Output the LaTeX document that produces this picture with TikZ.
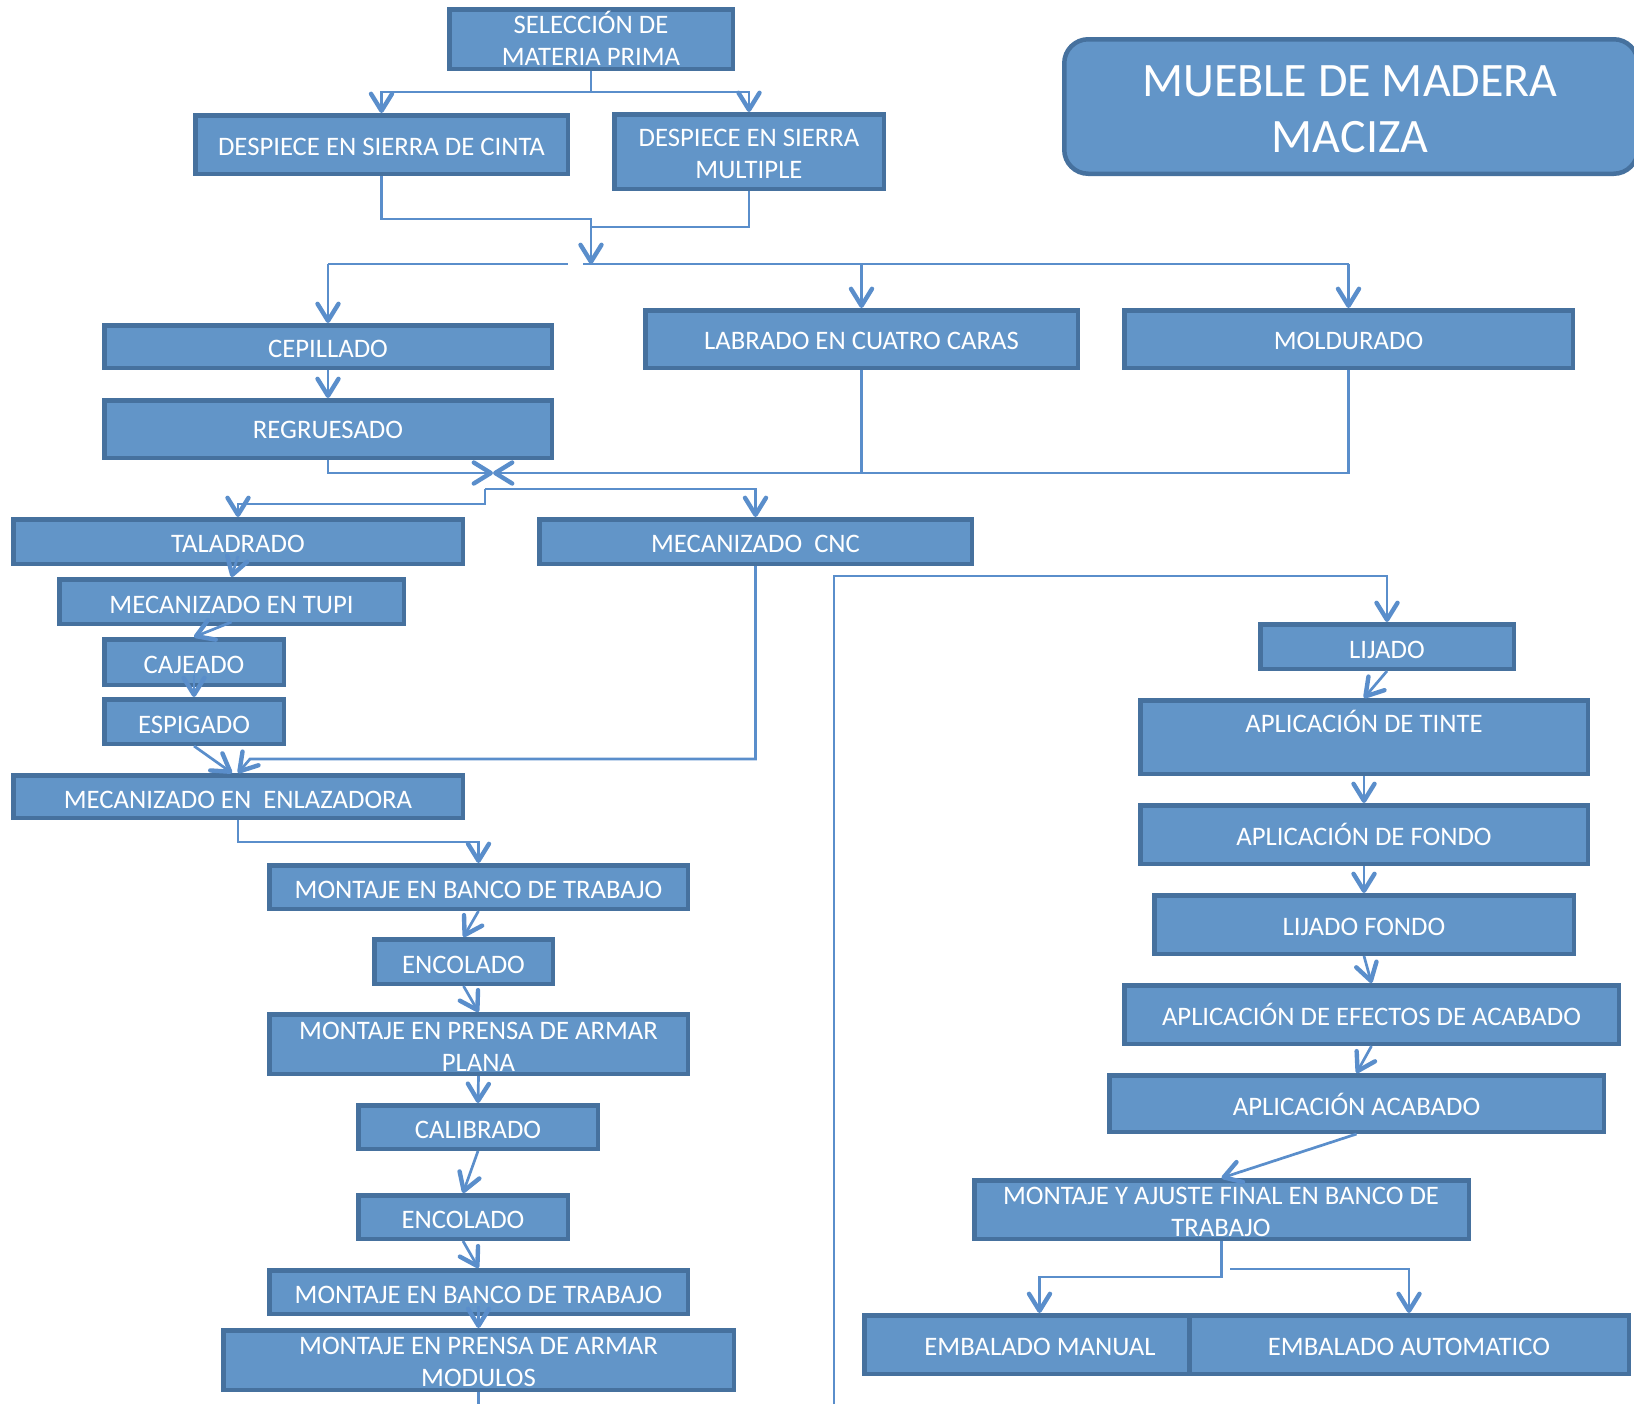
\documentclass[tikz,border=0pt]{standalone}
\usepackage{fontspec}
\setmainfont{Carlito}
\usetikzlibrary{arrows.meta}
\definecolor{bfill}{HTML}{6295C8}
\definecolor{bdraw}{HTML}{46719E}
\definecolor{lcol}{HTML}{5A8ECB}
\newcommand\BX[5]{%
  \pgfmathsetmacro\cx{(#2+#4)/2}%
  \pgfmathsetmacro\cy{(#3+#5)/2}%
  \pgfmathsetmacro\ww{(#4-#2-4.5)*0.5}%
  \pgfmathsetmacro\hh{(#5-#3-4.5)*0.5}%
  \node[box, minimum width=\ww pt, minimum height=\hh pt] (#1) at (\cx,\cy) {};}
\newcommand\TX[4]{\node[txt] (#1) at (#2,#3) {#4};}
\begin{document}
\begin{tikzpicture}[x=0.5pt,y=-0.5pt,
  box/.style={draw=bdraw, fill=bfill, line width=2.25pt, rectangle, inner sep=0pt},
  txt/.style={text=white, font=\fontsize{13.35}{15.75}\selectfont, anchor=base, align=center, inner sep=0pt},
  ttl/.style={text=white, font=\fontsize{24}{28}\selectfont, anchor=base, align=center, inner sep=0pt},
  conn/.style={draw=lcol, line width=1.35pt},
  arr/.style={conn, -{Straight Barb[length=8.5pt,width=10.5pt,line width=2.2pt,round]}}]
\clip (0,0) rectangle (1634,1404);
% ---------- boxes ----------
\node[box, rounded corners=12pt, minimum width=286.75pt, minimum height=67.25pt] (title) at (1351,106.5) {};
\node[ttl] (titlet) at (1350,152.7) {MUEBLE DE MADERA\\MACIZA};
\BX{sel}{447}{7}{735}{71}
\TX{selt}{591}{65}{SELECCIÓN DE\\MATERIA PRIMA}
\BX{cinta}{193}{113}{570}{176}
\TX{cintat}{381.5}{155}{DESPIECE EN SIERRA DE CINTA}
\BX{mult}{612}{112}{886}{191}
\TX{multt}{749}{178}{DESPIECE EN SIERRA\\MULTIPLE}
\BX{cep}{102}{323}{554}{370}
\TX{cept}{328}{357}{CEPILLADO}
\BX{reg}{102}{398}{554}{460}
\TX{regt}{328}{438}{REGRUESADO}
\BX{lab}{643}{308}{1080}{370}
\TX{labt}{861.5}{349}{LABRADO EN CUATRO CARAS}
\BX{mol}{1122}{308}{1575}{370}
\TX{molt}{1348.5}{349}{MOLDURADO}
\BX{tal}{11}{517}{465}{566}
\TX{talt}{238}{552}{TALADRADO}
\BX{cnc}{537}{517}{974}{566}
\TX{cnct}{755.5}{552}{MECANIZADO\ \ CNC}
\BX{tupi}{57}{577}{406}{626}
\TX{tupit}{231.5}{613}{MECANIZADO EN TUPI}
\BX{caj}{102}{637}{286}{687}
\TX{cajt}{194}{673}{CAJEADO}
\BX{esp}{102}{697}{286}{746}
\TX{espt}{194}{733}{ESPIGADO}
\BX{enl}{11}{773}{465}{820}
\TX{enlt}{238}{808}{MECANIZADO EN\ \ ENLAZADORA}
\BX{bancoa}{267}{863}{690}{911}
\TX{bancoat}{478.5}{898}{MONTAJE EN BANCO DE TRABAJO}
\BX{enca}{372}{937}{555}{986}
\TX{encat}{463.5}{973}{ENCOLADO}
\BX{plana}{267}{1012}{690}{1076}
\TX{planat}{478.5}{1071}{MONTAJE EN PRENSA DE ARMAR\\PLANA}
\BX{cal}{356}{1103}{600}{1151}
\TX{calt}{478}{1138}{CALIBRADO}
\BX{encb}{356}{1193}{570}{1241}
\TX{encbt}{463}{1228}{ENCOLADO}
\BX{bancob}{267}{1268}{690}{1316}
\TX{bancobt}{478.5}{1303}{MONTAJE EN BANCO DE TRABAJO}
\BX{mod}{221}{1328}{736}{1392}
\TX{modt}{478.5}{1386}{MONTAJE EN PRENSA DE ARMAR\\MODULOS}
\BX{lij}{1258}{622}{1516}{671}
\TX{lijt}{1387}{658}{LIJADO}
\BX{tin}{1138}{698}{1590}{776}
\TX{tint}{1364}{732}{APLICACIÓN DE TINTE}
\BX{fon}{1138}{803}{1590}{866}
\TX{font}{1364}{845}{APLICACIÓN DE FONDO}
\BX{lfo}{1152}{893}{1576}{956}
\TX{lfot}{1364}{935}{LIJADO FONDO}
\BX{efe}{1122}{983}{1621}{1046}
\TX{efet}{1371.5}{1025}{APLICACIÓN DE EFECTOS DE ACABADO}
\BX{aca}{1107}{1073}{1606}{1134}
\TX{acat}{1356.5}{1115}{APLICACIÓN ACABADO}
\BX{fin}{972}{1178}{1471}{1241}
\TX{fint}{1221}{1236}{MONTAJE Y AJUSTE FINAL EN BANCO DE\\TRABAJO}
\BX{man}{862}{1313}{1217}{1376}
\TX{mant}{1040}{1355}{EMBALADO MANUAL}
\BX{aut}{1187}{1313}{1631}{1376}
\TX{autt}{1409}{1355}{EMBALADO AUTOMATICO}
% ---------- connectors ----------
\coordinate (j1) at (591,92);
\draw[conn] (sel.south) -- (j1);
\draw[arr] (j1) -| (cinta.north);
\draw[arr] (j1) -| (mult.north);
\coordinate (j2) at (591,264);
\draw[arr] (cinta.south) |- (591,219) -- (j2);
\draw[conn] (mult.south) |- (591,227);
\coordinate (h1) at (328,264);
\coordinate (h2) at (568,264);
\coordinate (h3) at (583,264);
\coordinate (h4) at (1348.5,264);
\draw[conn] (h1) -- (h2);
\draw[conn] (h3) -- (h4);
\draw[arr] (h1) -- (cep.north);
\draw[arr] (lab.north |- h3) -- (lab.north);
\draw[arr] (h4) -- (mol.north);
\draw[arr] (cep.south) -- (reg.north);
\coordinate (m) at (493,473);
\draw[arr] (reg.south) |- (m);
\draw[arr] (mol.south) |- (m);
\draw[conn] (lab.south) -- (lab.south |- m);
\coordinate (s) at (485,489);
\draw[arr] (s) -| (cnc.north);
\draw[arr] (s) -- (485,504) -| (tal.north);
\draw[arr] ([yshift=5pt]tal.south) -- (tupi.north);
\draw[arr] ([yshift=2pt]tupi.south) -- (caj.north);
\draw[arr] ([yshift=6pt]caj.south) -- (esp.north);
\draw[arr] (esp.south) -- ([xshift=-3pt]enl.north);
\draw[arr] (cnc.south) |- (250,759) -- (enl.north);
\draw[arr] (enl.south) |- (478.5,842) -- (bancoa.north);
\draw[arr] (bancoa.south) -- (enca.north);
\draw[arr] (enca.south) -- (plana.north);
\draw[arr] (plana.south) -- (cal.north);
\draw[arr] (cal.south) -- (encb.north);
\draw[arr] (encb.south) -- (bancob.north);
\draw[arr] ([yshift=5pt]bancob.south) -- (mod.north);
\coordinate (b2) at (478.5,1404);
\draw[conn] (mod.south) -- (b2);
\coordinate (b1) at (834,1404);
\coordinate (k) at (1387,576);
\draw[arr] (b1) |- (k) -- (lij.north);
\draw[arr] (lij.south) -- (tin.north);
\draw[arr] (tin.south) -- (fon.north);
\draw[arr] (fon.south) -- (lfo.north);
\draw[arr] (lfo.south) -- (efe.north);
\draw[arr] (efe.south) -- (aca.north);
\draw[arr] (aca.south) -- (fin.north);
\draw[arr] (fin.south) -- ++(0,36) -| (man.north);
\coordinate (q) at (1230,1269);
\draw[arr] (q) -| (aut.north);
\end{tikzpicture}
\end{document}
